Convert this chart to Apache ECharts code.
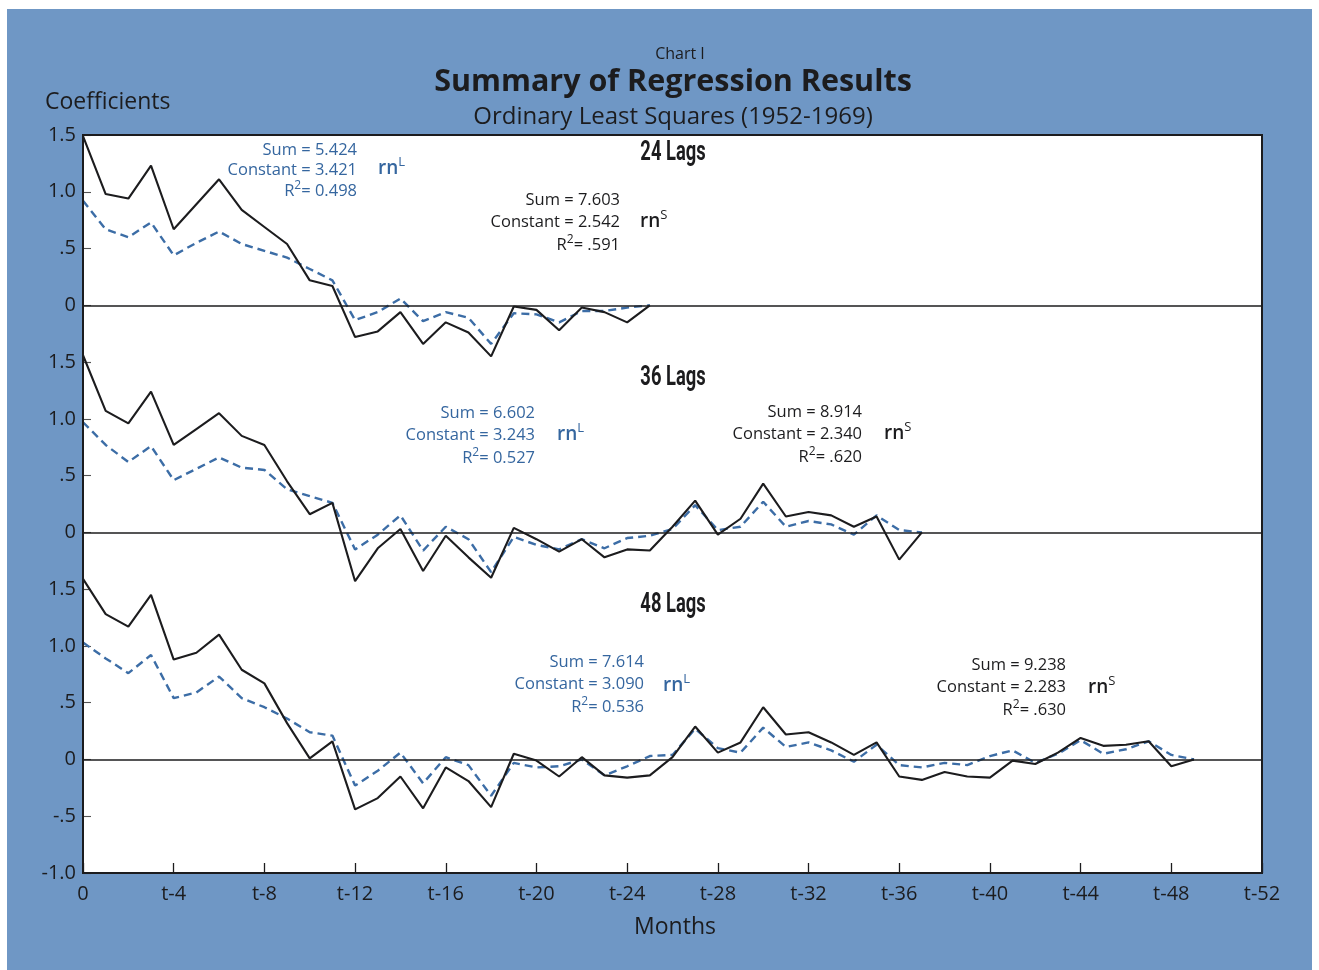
<!DOCTYPE html>
<html>
<head>
<meta charset="utf-8">
<script src="https://cdn.jsdelivr.net/npm/echarts@6/dist/echarts.min.js"></script>
<style>
  html, body { margin: 0; padding: 0; background: #ffffff; }
  #chart { width: 1319px; height: 970px; }
</style>
</head>
<body>
<div id="chart"></div>
<script>
// Distributed-lag coefficients, lag 0 .. n+1 (months)
const lags24S = [1.49, 0.98, 0.94, 1.23, 0.67, 0.89, 1.11, 0.84, 0.69, 0.54, 0.22, 0.17, -0.28, -0.23, -0.06, -0.34, -0.15, -0.24, -0.45, -0.01, -0.04, -0.22, -0.02, -0.06, -0.15, 0];
const lags24L = [0.92, 0.67, 0.60, 0.73, 0.44, 0.55, 0.65, 0.54, 0.48, 0.42, 0.32, 0.22, -0.13, -0.06, 0.06, -0.14, -0.06, -0.11, -0.34, -0.07, -0.08, -0.15, -0.05, -0.05, -0.02, 0];

const lags36S = [1.56, 1.07, 0.96, 1.24, 0.77, 0.91, 1.05, 0.85, 0.77, 0.45, 0.16, 0.26, -0.43, -0.14, 0.03, -0.34, -0.03, -0.22, -0.40, 0.04, -0.06, -0.17, -0.06, -0.22, -0.15, -0.16, 0.05, 0.28, -0.02, 0.12, 0.43, 0.14, 0.18, 0.15, 0.05, 0.14, -0.24, 0];
const lags36L = [0.97, 0.77, 0.62, 0.76, 0.46, 0.56, 0.66, 0.57, 0.55, 0.38, 0.32, 0.26, -0.15, -0.02, 0.15, -0.16, 0.05, -0.06, -0.35, -0.04, -0.11, -0.15, -0.06, -0.14, -0.05, -0.03, 0.03, 0.24, 0.02, 0.05, 0.27, 0.05, 0.10, 0.07, -0.02, 0.15, 0.02, 0];

const lags48S = [1.59, 1.28, 1.17, 1.45, 0.88, 0.94, 1.10, 0.79, 0.67, 0.32, 0.01, 0.16, -0.44, -0.34, -0.15, -0.43, -0.07, -0.19, -0.42, 0.05, -0.01, -0.15, 0.02, -0.14, -0.16, -0.14, 0.02, 0.29, 0.06, 0.15, 0.46, 0.22, 0.24, 0.15, 0.04, 0.15, -0.15, -0.18, -0.11, -0.15, -0.16, -0.01, -0.04, 0.06, 0.19, 0.12, 0.13, 0.16, -0.06, 0];
const lags48L = [1.03, 0.89, 0.76, 0.92, 0.54, 0.59, 0.73, 0.54, 0.46, 0.36, 0.24, 0.21, -0.23, -0.10, 0.06, -0.21, 0.02, -0.05, -0.32, -0.03, -0.07, -0.06, 0.00, -0.14, -0.06, 0.03, 0.04, 0.27, 0.10, 0.06, 0.28, 0.11, 0.15, 0.08, -0.02, 0.13, -0.05, -0.07, -0.03, -0.05, 0.03, 0.08, -0.03, 0.05, 0.17, 0.05, 0.09, 0.16, 0.04, 0];

const panelTitles = ['24 Lags', '36 Lags', '48 Lags'];
const statsL = [
  { sum: '5.424', constant: '3.421', r2: '0.498' },
  { sum: '6.602', constant: '3.243', r2: '0.527' },
  { sum: '7.614', constant: '3.090', r2: '0.536' }
];
const statsS = [
  { sum: '7.603', constant: '2.542', r2: '.591' },
  { sum: '8.914', constant: '2.340', r2: '.620' },
  { sum: '9.238', constant: '2.283', r2: '.630' }
];

const xTickLabels = ['0', 't-4', 't-8', 't-12', 't-16', 't-20', 't-24', 't-28', 't-32', 't-36', 't-40', 't-44', 't-48', 't-52'];
const yTickValues = [-1, -0.5, 0, 0.5, 1, 1.5];
const yTickLabels = ['-1.0', '-.5', '0', '.5', '1.0', '1.5'];

// ---- layout ----
const FONT = '"Open Sans", Lato, sans-serif';
const HEAD = 'Roboto, "Open Sans", sans-serif';
const INK = '#1c1c1e';
const PANEL_BG = '#6f97c5';
const BLUE_LINE = '#3c6da6';
const BLUE_TEXT = '#35669f';
const plotLeft = 83, plotRight = 1262, plotTop = 135, plotBottom = 873;
const unit = (plotBottom - plotTop) / 6.5;   // px per coefficient unit
const panels = [
  { top: plotTop, min: -0.5, max: 1.5, series: [lags24S, lags24L] },
  { top: plotTop + 2 * unit, min: -0.5, max: 1.5, series: [lags36S, lags36L] },
  { top: plotTop + 4 * unit, min: -1, max: 1.5, series: [lags48S, lags48L] }
];

const chart = echarts.init(document.getElementById('chart'), null, { renderer: 'canvas' });

const grids = [], xAxes = [], yAxes = [], seriesList = [];
panels.forEach((p, i) => {
  const isLast = i === panels.length - 1;
  grids.push({
    left: plotLeft, width: plotRight - plotLeft,
    top: p.top, height: (p.max - p.min) * unit,
    show: false
  });
  xAxes.push({
    type: 'value', gridIndex: i, min: 0, max: 52, interval: 4,
    axisLine: { show: false, onZero: false },
    splitLine: { show: false },
    axisTick: isLast ? { show: true, inside: true, length: 10, lineStyle: { color: INK, width: 1.3 } } : { show: false },
    axisLabel: isLast ? {
      show: true, margin: 11, color: INK, fontSize: 20, fontFamily: FONT,
      formatter: v => xTickLabels[Math.round(v / 4)]
    } : { show: false }
  });
  yAxes.push({
    type: 'value', gridIndex: i, min: p.min, max: p.max, interval: 0.5,
    axisLine: { show: false },
    splitLine: { show: false },
    axisTick: { show: true, inside: true, length: 8, lineStyle: { color: '#555', width: 1.1 } },
    axisLabel: {
      show: true, margin: 7, color: INK, fontSize: 20, fontFamily: FONT,
      formatter: v => {
        if (!isLast && v < 0) return '';
        const k = yTickValues.findIndex(t => Math.abs(t - v) < 1e-9);
        return k >= 0 ? yTickLabels[k] : '';
      }
    }
  });
  const [sVals, lVals] = p.series;
  seriesList.push({
    type: 'line', xAxisIndex: i, yAxisIndex: i, z: 3,
    data: sVals.map((v, m) => [m, v]),
    showSymbol: false, clip: false, silent: true,
    lineStyle: { color: INK, width: 2.1, type: 'solid' },
    markLine: {
      silent: true, symbol: 'none', label: { show: false },
      lineStyle: { color: INK, width: 1.6, type: 'solid' },
      data: [{ yAxis: 0 }]
    }
  });
  seriesList.push({
    type: 'line', xAxisIndex: i, yAxisIndex: i, z: 2,
    data: lVals.map((v, m) => [m, v]),
    showSymbol: false, clip: false, silent: true,
    lineStyle: { color: BLUE_LINE, width: 2.4, type: [8, 5] }
  });
});

// ---- backgrounds, frame and text ----
const graphics = [];
// coloured card with a thin white margin on top, left and right
graphics.push({
  type: 'rect', x: 7, y: 9, z: -10, silent: true,
  shape: { width: 1305, height: 1000 },
  style: { fill: PANEL_BG }
});
// white plotting field
graphics.push({
  type: 'rect', x: plotLeft, y: plotTop, z: -5, silent: true,
  shape: { width: plotRight - plotLeft, height: plotBottom - plotTop },
  style: { fill: '#ffffff' }
});

function txt(x, y, text, opts, extra) {
  graphics.push(Object.assign({
    type: 'text', x: x, y: y, z: 20, silent: true,
    style: Object.assign({
      text: text, fill: INK, fontFamily: FONT, fontSize: 16.5,
      align: 'left', verticalAlign: 'middle'
    }, opts || {})
  }, extra || {}));
}
function statBlock(rightX, y0, gap, st, color, tag, tagX, tagY) {
  const rich = {
    n: { fontSize: 16.5, fontFamily: FONT, fill: color, color: color, lineHeight: 20, verticalAlign: 'bottom' },
    sup: { fontSize: 12, fontFamily: FONT, fill: color, color: color, lineHeight: 20, verticalAlign: 'top' },
    t: { fontSize: 19, fontWeight: 600, fontFamily: FONT, fill: color, color: color, lineHeight: 22, verticalAlign: 'bottom' },
    tsup: { fontSize: 13, fontFamily: FONT, fill: color, color: color, lineHeight: 22, verticalAlign: 'top' }
  };
  txt(rightX, y0, 'Sum = ' + st.sum, { fill: color, align: 'right' });
  txt(rightX, y0 + gap, 'Constant = ' + st.constant, { fill: color, align: 'right' });
  txt(rightX, y0 + 2 * gap, '{n|R}{sup|2}{n|= ' + st.r2 + '}', { fill: color, align: 'right', rich: rich });
  txt(tagX, tagY, '{t|rn}{tsup|' + tag + '}', { fill: color, rich: rich });
}

// overall titles
txt(680, 54, 'Chart I', { align: 'center', fontSize: 16 });
txt(673, 82, 'Summary of Regression Results', { align: 'center', fontSize: 30.5, fontWeight: 'bold' });
txt(673, 117, 'Ordinary Least Squares (1952-1969)', { align: 'center', fontSize: 24 });
txt(45, 102, 'Coefficients', { fontSize: 23 });
txt(675, 927, 'Months', { align: 'center', fontSize: 23 });

// panel headings, condensed
[153, 378, 605].forEach((y, i) => {
  txt(673, y, panelTitles[i], { align: 'center', fontFamily: HEAD, fontSize: 27, fontWeight: 'bold' }, { scaleX: 0.68 });
});

statBlock(357, 150, 20, statsL[0], BLUE_TEXT, 'L', 378, 167);
statBlock(620, 200, 22, statsS[0], INK, 'S', 640, 220);
statBlock(535, 413, 22, statsL[1], BLUE_TEXT, 'L', 557, 433);
statBlock(862, 412, 22, statsS[1], INK, 'S', 884, 432);
statBlock(644, 662, 22, statsL[2], BLUE_TEXT, 'L', 663, 684);
statBlock(1066, 665, 22, statsS[2], INK, 'S', 1088, 686);

// plot frame
graphics.push({
  type: 'rect', x: plotLeft, y: plotTop, z: 15, silent: true,
  shape: { width: plotRight - plotLeft, height: plotBottom - plotTop },
  style: { fill: 'none', stroke: INK, lineWidth: 2 }
});

chart.setOption({
  backgroundColor: '#ffffff',
  animation: false,
  grid: grids,
  xAxis: xAxes,
  yAxis: yAxes,
  series: seriesList,
  graphic: graphics
});
</script>
</body>
</html>
